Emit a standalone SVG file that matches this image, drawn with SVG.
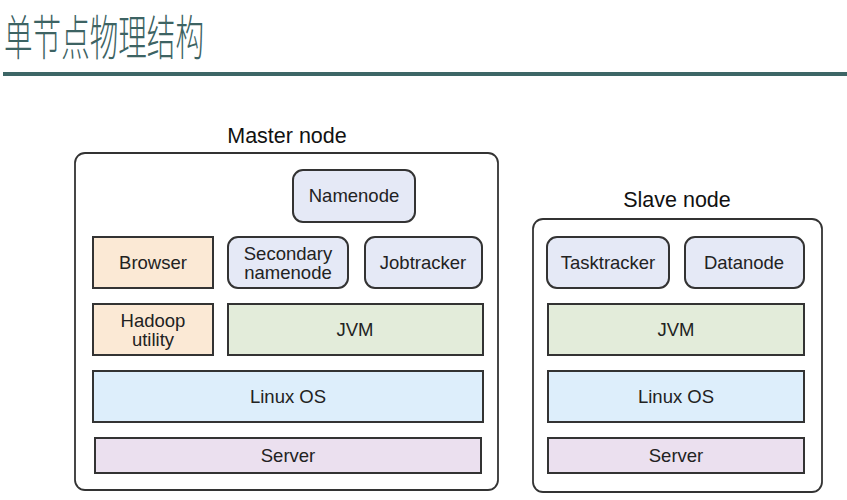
<svg xmlns="http://www.w3.org/2000/svg" width="847" height="500" viewBox="0 0 847 500">
<style>
.t{font-family:"Liberation Sans",Arial,sans-serif;font-size:18.5px;fill:#222;text-anchor:middle}
.h{font-family:"Liberation Sans",Arial,sans-serif;font-size:21.5px;fill:#111;text-anchor:middle}
.b{stroke:#333;stroke-width:2}
.o{fill:#fff;stroke:#333;stroke-width:1.8}
.or{fill:#fbe9d5}.bl{fill:#e5e9f6}.gr{fill:#e3ecda}.lb{fill:#ddeefb}.pk{fill:#ebe0ef}
</style>
<rect width="847" height="500" fill="#fff"/>
<g id="title">
<text x="4" y="55" font-family="'Noto Sans CJK SC',sans-serif" font-size="48" font-weight="300" fill="#3d6363" textLength="200" lengthAdjust="spacingAndGlyphs">单节点物理结构</text>
<rect x="3" y="72" width="844" height="4" fill="#3d6666"/>
</g>
<g id="master">
<text class="h" x="287" y="143">Master node</text>
<rect class="o" x="75" y="153" width="423" height="337" rx="10"/>
</g>
<g id="m-namenode"><rect class="b bl" x="293" y="170" width="122" height="52" rx="10"/><text class="t" x="354" y="202">Namenode</text></g>
<g id="m-browser"><rect class="b or" x="93" y="237" width="120" height="51"/><text class="t" x="153" y="269">Browser</text></g>
<g id="m-secondary"><rect class="b bl" x="228" y="237" width="120" height="51" rx="10"/><text class="t" x="288" y="260">Secondary</text><text class="t" x="288" y="279">namenode</text></g>
<g id="m-jobtracker"><rect class="b bl" x="365" y="237" width="117" height="51" rx="10"/><text class="t" x="423" y="269">Jobtracker</text></g>
<g id="m-hadoop"><rect class="b or" x="93" y="304" width="120" height="51"/><text class="t" x="153" y="327">Hadoop</text><text class="t" x="153" y="346">utility</text></g>
<g id="m-jvm"><rect class="b gr" x="228" y="304" width="255" height="51"/><text class="t" x="355" y="336">JVM</text></g>
<g id="m-linux"><rect class="b lb" x="93" y="371" width="390" height="51"/><text class="t" x="288" y="403">Linux OS</text></g>
<g id="m-server"><rect class="b pk" x="95" y="438" width="386" height="35"/><text class="t" x="288" y="462">Server</text></g>
<g id="slave">
<text class="h" x="677" y="207">Slave node</text>
<rect class="o" x="533" y="219" width="289" height="273" rx="10"/>
</g>
<g id="s-tasktracker"><rect class="b bl" x="547" y="237" width="122" height="51" rx="10"/><text class="t" x="608" y="269">Tasktracker</text></g>
<g id="s-datanode"><rect class="b bl" x="685" y="237" width="119" height="51" rx="10"/><text class="t" x="744" y="269">Datanode</text></g>
<g id="s-jvm"><rect class="b gr" x="548" y="304" width="256" height="51"/><text class="t" x="676" y="336">JVM</text></g>
<g id="s-linux"><rect class="b lb" x="548" y="371" width="256" height="51"/><text class="t" x="676" y="403">Linux OS</text></g>
<g id="s-server"><rect class="b pk" x="548" y="438" width="256" height="35"/><text class="t" x="676" y="462">Server</text></g>
<g id="connectors"/>
</svg>
